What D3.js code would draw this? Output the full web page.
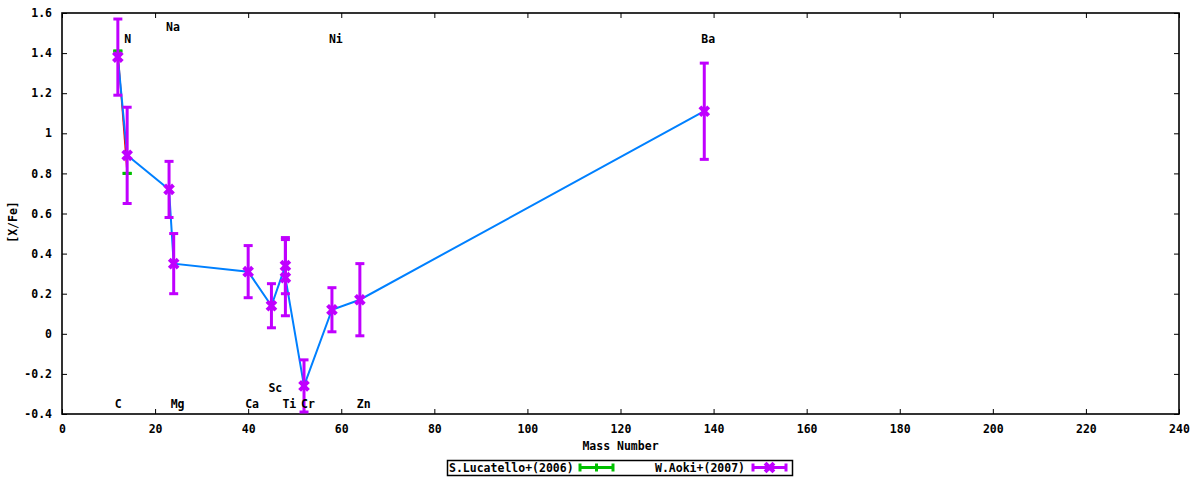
<!DOCTYPE html>
<html>
<head>
<meta charset="utf-8">
<script src="https://cdn.jsdelivr.net/npm/d3@7"></script>
<style>
  body { margin: 0; background: #fff; }
  text { font-family: "DejaVu Sans Mono", "Liberation Mono", monospace; font-weight: bold; font-size: 11.5px; fill: #000; }
</style>
</head>
<body>
<div id="graph"></div>
<script>
// W.Aoki+(2007)
const aokiMass = [12, 14, 23, 24, 40, 45, 48, 48, 52, 58, 64, 138];
const aokiValue = [1.38, 0.89, 0.72, 0.35, 0.31, 0.14, 0.34, 0.28, -0.26, 0.12, 0.17, 1.11];
const aokiError = [0.19, 0.24, 0.14, 0.15, 0.13, 0.11, 0.14, 0.19, 0.13, 0.11, 0.18, 0.24];

// S.Lucatello+(2006)
const lucMass = [12, 14];
const lucValue = [1.41, 0.80];
const lucError = [0, 0];

// element labels
const elemNames = ["C", "N", "Na", "Mg", "Ca", "Sc", "Ti", "Cr", "Ni", "Zn", "Ba"];
const elemMass = [12, 14, 23, 24, 40, 45, 48, 52, 58, 64, 138];
const elemLabelY = [-0.35, 1.47, 1.53, -0.35, -0.35, -0.27, -0.35, -0.35, 1.47, -0.35, 1.47];

const xTicks = [0, 20, 40, 60, 80, 100, 120, 140, 160, 180, 200, 220, 240];
const yTicks = [-0.4, -0.2, 0, 0.2, 0.4, 0.6, 0.8, 1, 1.2, 1.4, 1.6];
const yTickLabels = ["-0.4", "-0.2", "0", "0.2", "0.4", "0.6", "0.8", "1", "1.2", "1.4", "1.6"];

const W = 1200, H = 480;
const area = { left: 62, right: 1179, top: 13, bottom: 414 };
const RED = "#ff0000", GREEN = "#00c000", BLUE = "#0080ff", MAGENTA = "#c000ff";
const TICK = 5;

const svg = d3.select("#graph").append("svg")
  .attr("width", W).attr("height", H);

const x = d3.scaleLinear().domain([0, 240]).range([area.left, area.right]);
const y = d3.scaleLinear().domain([-0.4, 1.6]).range([area.bottom, area.top]);

// axes (ticks mirrored inside the box)
const axisStyle = (g) => {
  g.select(".domain").remove();
  g.selectAll(".tick line").attr("stroke", "#000").attr("stroke-width", 1);
};
svg.append("g").attr("transform", `translate(0,${area.bottom})`)
  .call(d3.axisBottom(x).tickValues(xTicks).tickSize(-TICK).tickPadding(11).tickFormat(d3.format("d")))
  .call(axisStyle);
svg.append("g").attr("transform", `translate(0,${area.top})`)
  .call(d3.axisTop(x).tickValues(xTicks).tickSize(-TICK).tickFormat(""))
  .call(axisStyle);
svg.append("g").attr("transform", `translate(${area.left},0)`)
  .call(d3.axisLeft(y).tickValues(yTicks).tickSize(-TICK).tickPadding(10).tickFormat((d, i) => yTickLabels[i]))
  .call(axisStyle);
svg.append("g").attr("transform", `translate(${area.right},0)`)
  .call(d3.axisRight(y).tickValues(yTicks).tickSize(-TICK).tickFormat(""))
  .call(axisStyle);
svg.selectAll(".tick text").attr("font-family", null).attr("font-size", null);

svg.append("rect")
  .attr("x", area.left).attr("y", area.top)
  .attr("width", area.right - area.left).attr("height", area.bottom - area.top)
  .attr("fill", "none").attr("stroke", "#000").attr("stroke-width", 1.6);

// axis titles
svg.append("text").attr("x", (area.left + area.right) / 2).attr("y", 446)
  .attr("text-anchor", "middle").attr("dominant-baseline", "central").text("Mass Number");
svg.append("text").attr("transform", "translate(13,222) rotate(-90)")
  .attr("text-anchor", "middle").attr("dominant-baseline", "central").text("[X/Fe]");

svg.append("clipPath").attr("id", "clip").append("rect")
  .attr("x", area.left).attr("y", area.top)
  .attr("width", area.right - area.left).attr("height", area.bottom - area.top);
const plot = svg.append("g").attr("clip-path", "url(#clip)");

const line = d3.line().x((d) => x(d.m)).y((d) => y(d.v));
const luc = lucMass.map((m, i) => ({ m, v: lucValue[i], e: lucError[i] }));
const aoki = aokiMass.map((m, i) => ({ m, v: aokiValue[i], e: aokiError[i] }));

const crossPath = (cx, cy, r) => `M${cx - r},${cy - r}L${cx + r},${cy + r}M${cx + r},${cy - r}L${cx - r},${cy + r}`;

const drawErrorBars = (data, color, marker) => {
  const g = plot.append("g").attr("stroke", color).attr("fill", "none");
  data.forEach((d) => {
    const cx = x(d.m), y1 = y(d.v + d.e), y2 = y(d.v - d.e);
    g.append("line").attr("x1", cx).attr("x2", cx).attr("y1", y1).attr("y2", y2).attr("stroke-width", 3);
    [y1, y2].forEach((cy) => {
      g.append("line").attr("x1", cx - 4.5).attr("x2", cx + 4.5).attr("y1", cy).attr("y2", cy).attr("stroke-width", 3);
    });
    if (marker) {
      g.append("path").attr("d", crossPath(cx, y(d.v), 3))
        .attr("stroke-width", 4).attr("stroke-linecap", "square");
    }
  });
};

plot.append("path").datum(luc).attr("d", line).attr("fill", "none").attr("stroke", RED).attr("stroke-width", 1.5);
drawErrorBars(luc, GREEN, false);
plot.append("path").datum(aoki).attr("d", line).attr("fill", "none").attr("stroke", BLUE).attr("stroke-width", 2);
drawErrorBars(aoki, MAGENTA, true);

// element labels
svg.selectAll("text.elem")
  .data(elemNames)
  .enter()
  .append("text")
  .attr("class", "elem")
  .attr("x", (d, i) => x(elemMass[i]) - 3)
  .attr("y", (d, i) => y(elemLabelY[i]))
  .attr("dominant-baseline", "central")
  .text((d) => d);

// legend
const legend = svg.append("g");
legend.append("rect").attr("x", 447.5).attr("y", 460.5).attr("width", 345).attr("height", 15)
  .attr("fill", "none").attr("stroke", "#000").attr("stroke-width", 1.5);
const legendItems = [
  { name: "S.Lucatello+(2006)", color: GREEN, tx: 449, sx: 579, marker: false },
  { name: "W.Aoki+(2007)", color: MAGENTA, tx: 655, sx: 752, marker: true },
];
legendItems.forEach((d) => {
  legend.append("text").attr("x", d.tx).attr("y", 468).attr("dominant-baseline", "central").text(d.name);
  const g = legend.append("g").attr("stroke", d.color).attr("stroke-width", 3).attr("fill", "none");
  g.append("line").attr("x1", d.sx).attr("x2", d.sx + 35).attr("y1", 467.5).attr("y2", 467.5);
  [d.sx + 1, d.sx + 34].forEach((cx) => g.append("line").attr("x1", cx).attr("x2", cx).attr("y1", 463.5).attr("y2", 471.5));
  const mx = d.sx + 17.5;
  if (d.marker) {
    g.append("path").attr("d", crossPath(mx, 467.5, 3)).attr("stroke-width", 4).attr("stroke-linecap", "square");
  } else {
    g.append("line").attr("x1", mx).attr("x2", mx).attr("y1", 463.5).attr("y2", 471.5);
  }
});
</script>
</body>
</html>
